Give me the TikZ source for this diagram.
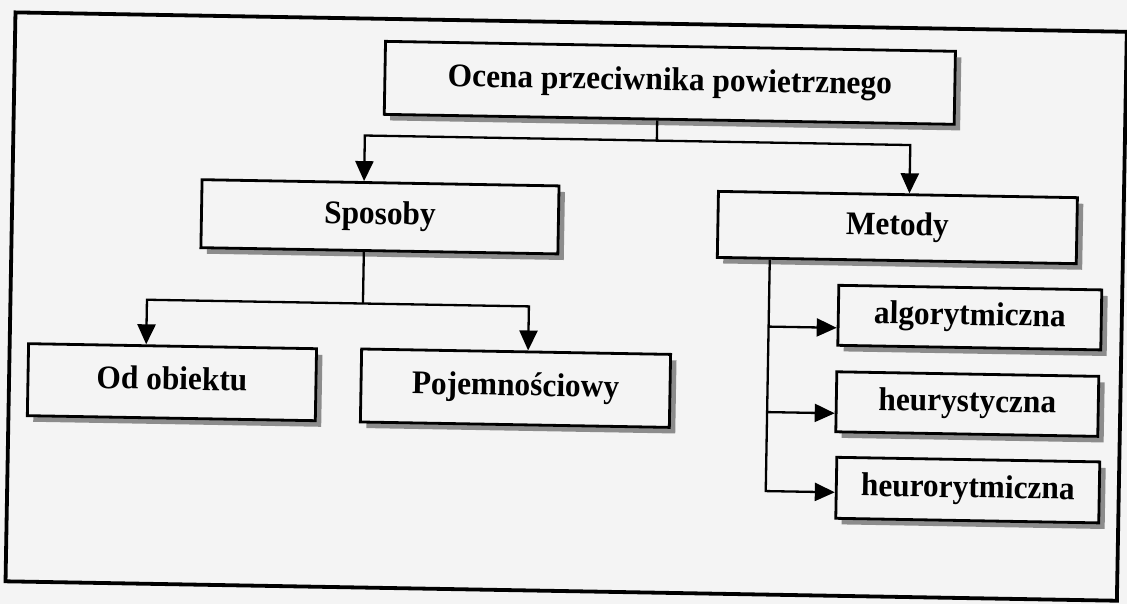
\documentclass[tikz,border=0pt]{standalone}
\usepackage{fontspec}
\setmainfont{Liberation Serif}
\newfontfamily\boxfont[FakeStretch=0.95]{Liberation Serif}
\usetikzlibrary{arrows.meta,shadows}
\definecolor{paper}{gray}{0.955}
\begin{document}
\begin{tikzpicture}[x=1pt,y=-1pt,
  box/.style={draw=black, line width=2.8pt, fill=paper, inner sep=0pt,
    font=\boxfont\bfseries\fontsize{33}{38}\selectfont, text height=22pt, text depth=7pt,
    drop shadow={shadow xshift=6pt, shadow yshift=-6pt, fill=black!45, opacity=1}},
  link/.style={line width=2.3pt, draw=black},
  arr/.style={link, -{Triangle[length=20pt,width=18pt]}},
]
\useasboundingbox (0,0) rectangle (1127,604);
\fill[paper] (0,0) rectangle (1127,604);
\begin{scope}[transform canvas={rotate around={-1:(563,302)}}]
  % outer frame
  \draw[line width=3.8pt] (10.5,22) rectangle (1122,591);

  % boxes
  \node[box, minimum width=570pt, minimum height=73pt] (ocena) at (666,81) {Ocena przeciwnika powietrznego};
  \node[box, minimum width=357pt, minimum height=68pt] (sposoby) at (378.5,220) {Sposoby};
  \node[box, minimum width=359pt, minimum height=66pt] (metody) at (896,221.7) {Metody};
  \node[box, minimum width=288pt, minimum height=72pt] (odob) at (173.4,389) {Od obiektu};
  \node[box, minimum width=309pt, minimum height=73pt] (poj) at (517,389) {Pojemnościowy};
  \node[box, minimum width=263pt, minimum height=60pt] (alg) at (970,310.5) {algorytmiczna};
  \node[box, minimum width=262pt, minimum height=60pt] (heur) at (969,397) {heurystyczna};
  \node[box, minimum width=263pt, minimum height=61pt] (heuro) at (971,483) {heurorytmiczna};

  % top branching
  \coordinate (j0) at (654,139);
  \coordinate (jl) at (362,139);
  \coordinate (jr) at (907.5,139);
  \draw[link] (ocena.south -| j0) -- (j0);
  \draw[arr] (j0) -| (sposoby.north -| jl);
  \draw[arr] (j0) -| (metody.north -| jr);

  % branching below "Sposoby"
  \coordinate (k0) at (363,307);
  \coordinate (kl) at (147,307);
  \coordinate (kr) at (529,307);
  \draw[link] (sposoby.south -| k0) -- (k0);
  \draw[arr] (k0) -| (odob.north -| kl);
  \draw[arr] (k0) -| (poj.north -| kr);

  % branching below "Metody"
  \coordinate (m1) at (769,323);
  \coordinate (m2) at (769,408.5);
  \coordinate (m3) at (769,487.5);
  \draw[arr] (metody.south -| m1) |- (heuro.west |- m3);
  \draw[arr] (m1) -- (alg.west |- m1);
  \draw[arr] (m2) -- (heur.west |- m2);
\end{scope}
\end{tikzpicture}
\end{document}
